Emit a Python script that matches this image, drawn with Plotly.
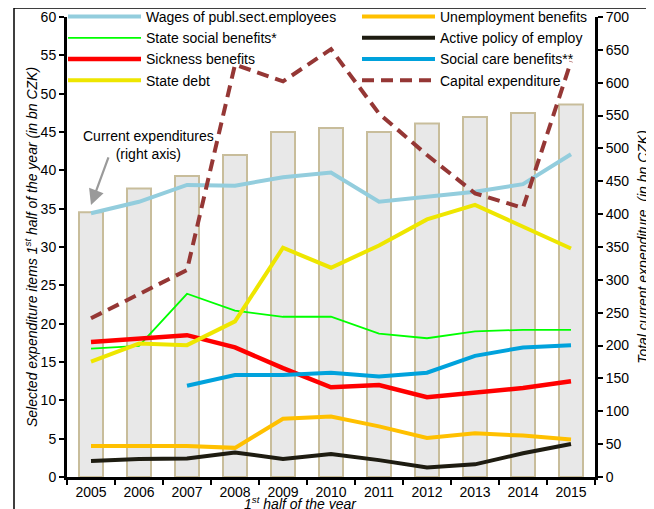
import plotly.graph_objects as go

years = ["2005", "2006", "2007", "2008", "2009", "2010", "2011", "2012", "2013", "2014", "2015"]

current_expenditure = [403, 439, 458, 490, 525, 531, 525, 538, 548, 554, 567]

wages = [34.4, 35.9, 38.1, 38.0, 39.1, 39.7, 35.9, 36.5, 37.2, 38.2, 42.1]
state_social = [16.75, 17.1, 23.9, 21.7, 20.9, 20.9, 18.7, 18.1, 19.0, 19.2, 19.2]
sickness = [17.6, 18.0, 18.5, 16.9, 14.2, 11.7, 12.0, 10.4, 11.0, 11.6, 12.5]
state_debt = [15.05, 17.4, 17.2, 20.3, 29.9, 27.3, 30.2, 33.6, 35.5, 32.7, 29.8]
unemployment = [4.05, 4.05, 4.05, 3.8, 7.6, 7.9, 6.6, 5.1, 5.7, 5.4, 4.9]
active_policy = [2.1, 2.35, 2.4, 3.2, 2.35, 3.0, 2.2, 1.25, 1.65, 3.1, 4.3]
social_care = [None, None, 11.9, 13.3, 13.3, 13.6, 13.1, 13.6, 15.8, 16.9, 17.2]
capital = [20.7, 23.8, 27.0, 53.8, 51.6, 55.8, 47.4, 42.0, 37.0, 35.1, 54.2]

left_ticks = list(range(0, 61, 5))
right_ticks = list(range(0, 701, 50))

FONT = "Arial, Liberation Sans, sans-serif"

fig = go.Figure()

fig.add_trace(go.Bar(
    x=years, y=current_expenditure, yaxis="y", width=0.5,
    marker=dict(color="#e8e8e8", line=dict(color="#c8bd9b", width=2)),
    showlegend=False, name="Current expenditures",
))

series = [
    ("Wages of publ.sect.employees", wages, "#93cddd", 4, "solid", "legend"),
    ("State social benefits*", state_social, "#00ff00", 1.8, "solid", "legend"),
    ("Sickness benefits", sickness, "#ff0000", 4.5, "solid", "legend"),
    ("State debt", state_debt, "#eee600", 4, "solid", "legend"),
    ("Unemployment benefits", unemployment, "#ffc000", 4, "solid", "legend2"),
    ("Active policy of employ", active_policy, "#1e1c11", 4, "solid", "legend2"),
    ("Social care benefits**", social_care, "#00a2dc", 4, "solid", "legend2"),
    ("Capital expenditure", capital, "#953735", 4, "12px,7px", "legend2"),
]
for name, vals, color, w, dash, leg in series:
    fig.add_trace(go.Scatter(
        x=years, y=vals, yaxis="y2", mode="lines", name=name,
        line=dict(color=color, width=w, dash=dash),
        legend=leg, connectgaps=False,
    ))

legend_common = dict(
    yanchor="top", xanchor="left", bgcolor="rgba(0,0,0,0)",
    font=dict(size=14, family=FONT), itemwidth=73, traceorder="normal",
    orientation="v",
)

fig.update_layout(
    width=646, height=501,
    margin=dict(l=59, r=59, t=9, b=32, autoexpand=False),
    paper_bgcolor="white", plot_bgcolor="white",
    font=dict(family=FONT, size=14, color="black"),
    showlegend=True,
    legend=dict(x=-4 / 528, y=(477 - 1) / 460, **legend_common),
    legend2=dict(x=290 / 528, y=(477 - 1) / 460, **legend_common),
    xaxis=dict(
        type="category", range=[-0.5, 10.5], tickson="boundaries",
        ticks="outside", ticklen=5, tickwidth=2, tickcolor="black",
        showline=True, linewidth=3, linecolor="black", showgrid=False,
        tickfont=dict(size=14), automargin=False,
    ),
    yaxis=dict(
        side="right", range=[0, 700], tickvals=right_ticks,
        ticks="outside", ticklen=5, tickwidth=2, tickcolor="black",
        showline=True, linewidth=3, linecolor="black", showgrid=False, zeroline=False,
        automargin=False,
        title=dict(text="<i>Total current expenditure  (in bn CZK)</i>", font=dict(size=14), standoff=10),
    ),
    yaxis2=dict(
        overlaying="y", side="left", range=[0, 60], tickvals=left_ticks,
        ticks="outside", ticklen=5, tickwidth=2, tickcolor="black",
        showline=True, linewidth=3, linecolor="black", showgrid=False, zeroline=False,
        automargin=False,
        title=dict(text="<i>Selected expenditure items 1<sup>st</sup> half of the year (in bn CZK)</i>",
                   font=dict(size=14), standoff=0),
    ),
    shapes=[dict(type="rect", xref="paper", yref="paper",
                 x0=(14 - 67) / 528, x1=(648 - 67) / 528,
                 y0=-0.1, y1=(477 - 8) / 460,
                 line=dict(color="black", width=1.5), fillcolor="rgba(0,0,0,0)", layer="above")],
    annotations=[
        dict(text="Current expenditures<br>(right axis)", xref="paper", yref="paper",
             x=(148 - 67) / 528, y=(477 - 145) / 460, showarrow=False,
             font=dict(size=14), xanchor="center", yanchor="middle"),
        dict(text="", x=years.index("2005"), y=414, xref="x", yref="y", showarrow=True,
             ax=18, ay=-49, arrowhead=2, arrowsize=1.4, arrowwidth=2.2, arrowcolor="#9a9a9a"),
        dict(text="<i>1<sup>st</sup> half of the year</i>", xref="paper", yref="paper",
             x=(300 - 67) / 528, y=(477 - 503) / 460, showarrow=False,
             font=dict(size=14), xanchor="center", yanchor="middle"),
    ],
)

fig.write_html("out.html")
